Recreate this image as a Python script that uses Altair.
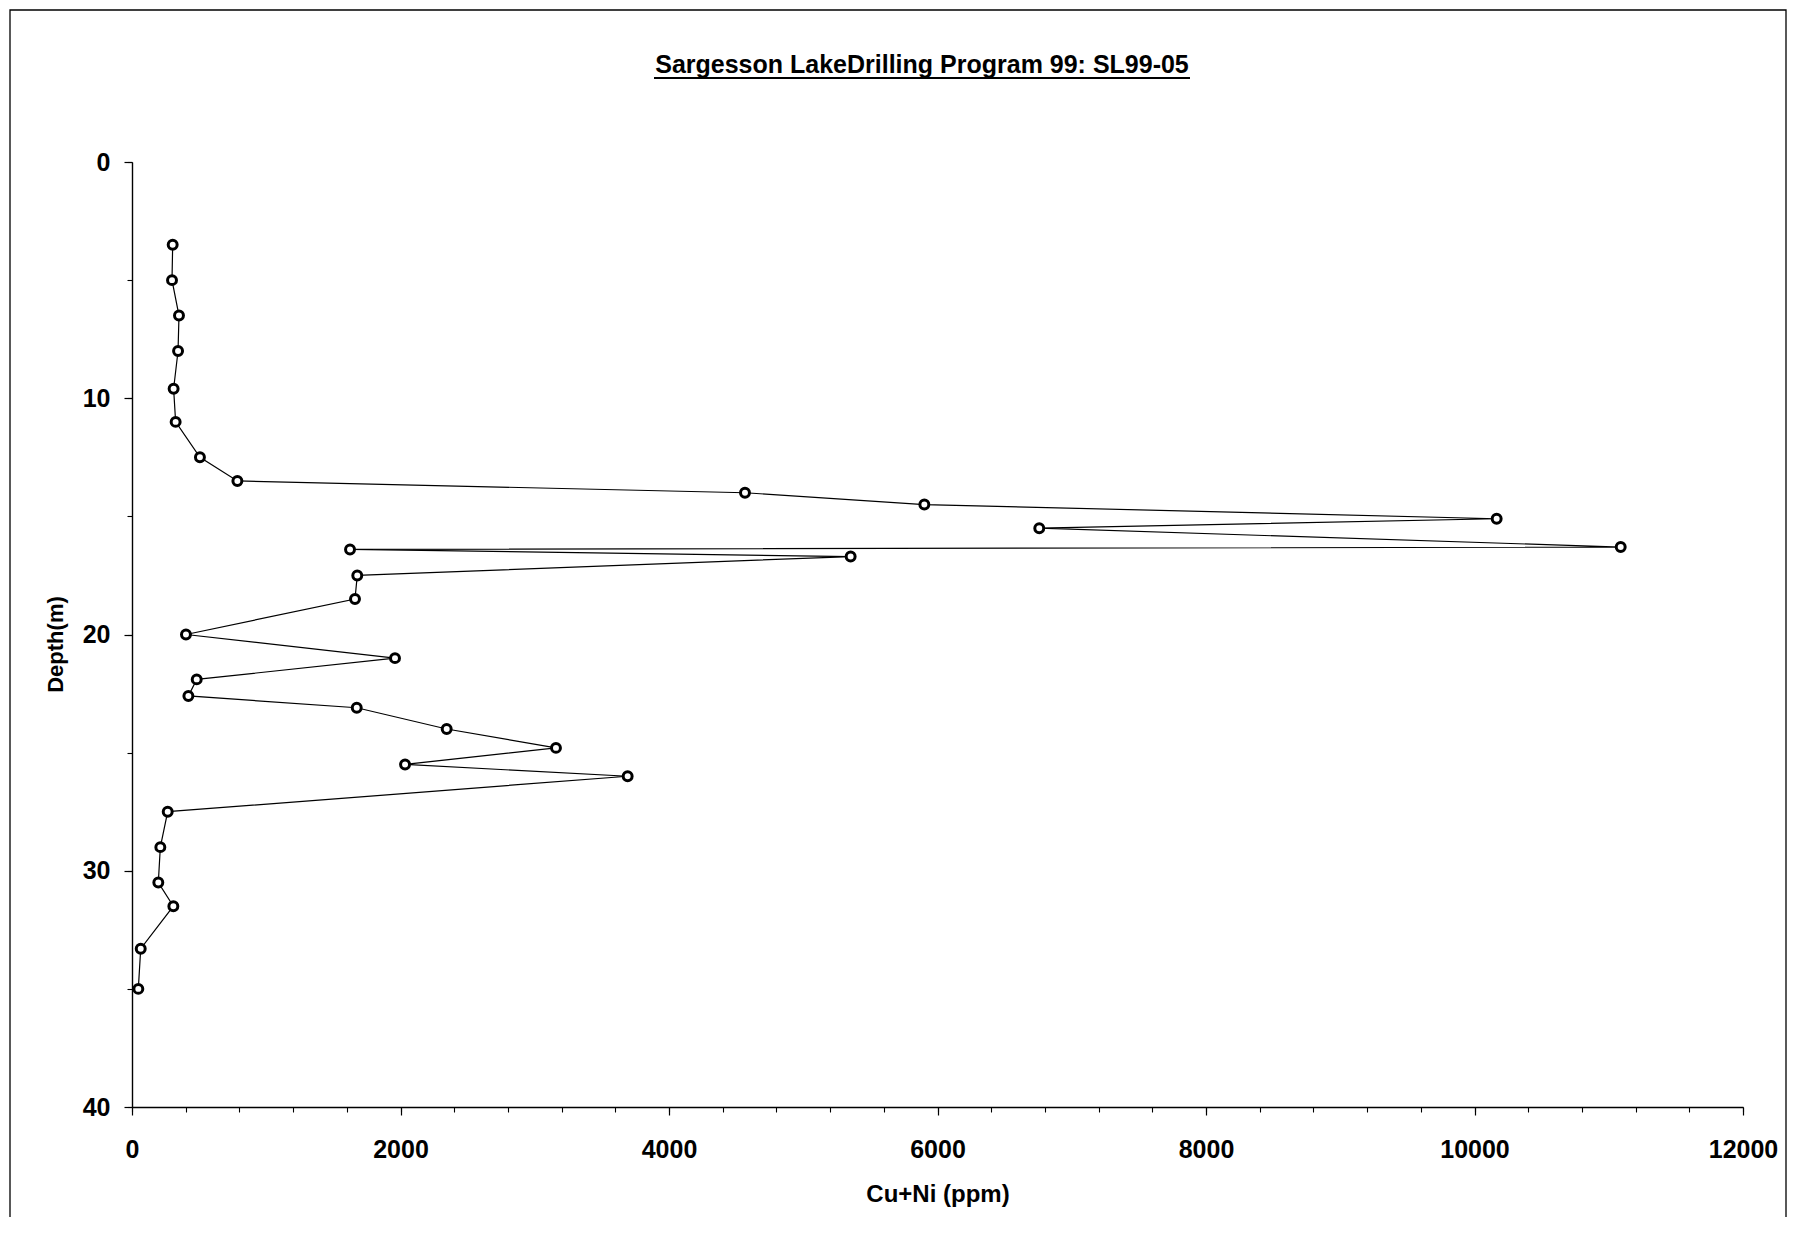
import altair as alt
import pandas as pd

# Data (depth in m, Cu+Ni in ppm), in drilling order
depth = [3.5, 5.0, 6.5, 8.0, 9.6, 11.0, 12.5, 13.5, 14.0, 14.5, 15.1, 15.5, 16.3, 16.4,
         16.7, 17.5, 18.5, 20.0, 21.0, 21.9, 22.6, 23.1, 24.0, 24.8, 25.5, 26.0, 27.5,
         29.0, 30.5, 31.5, 33.3, 35.0]
cu_ni = [303, 298, 350, 343, 310, 325, 506, 785, 4566, 5902, 10165, 6758, 11089, 1624,
         5353, 1678, 1661, 402, 1959, 482, 420, 1674, 2344, 3158, 2034, 3692, 266,
         211, 196, 308, 65, 47]

x_major = [0, 2000, 4000, 6000, 8000, 10000, 12000]
x_minor = list(range(0, 12001, 400))
y_major = [0, 10, 20, 30, 40]
y_minor = [0, 5, 10, 15, 20, 25, 30, 35, 40]

title_text = "Sargesson LakeDrilling Program 99: SL99-05"
x_title = "Cu+Ni (ppm)"
y_title = "Depth(m)"

df = pd.DataFrame({"seq": list(range(len(depth))), "depth": depth, "cu_ni": cu_ni})

FONT = "Liberation Sans"
W, H = 1611, 945

xscale = alt.Scale(domain=[0, 12000], nice=False, zero=False)
yscale = alt.Scale(domain=[0, 40], nice=False, zero=False, reverse=True)

major_x = alt.Axis(orient="bottom", values=x_major, format="d", tickSize=8, labelPadding=22,
                   title=x_title, titleFont=FONT, titleFontSize=24, titleFontWeight="bold",
                   titleBaseline="alphabetic", titleY=94, titleX=W / 2,
                   domainColor="black", domainWidth=1.4, tickColor="black", tickWidth=1.2,
                   labelFont=FONT, labelFontSize=25, labelFontWeight="bold", labelColor="black",
                   grid=False, labelFlush=False)
minor_x = alt.Axis(orient="bottom", values=x_minor, tickSize=5, labels=False, domain=False,
                   title="", tickColor="black", tickWidth=1.1, grid=False)
major_y = alt.Axis(orient="left", values=y_major, tickSize=8, labelPadding=14,
                   title=y_title, titleFont=FONT, titleFontSize=22, titleFontWeight="bold",
                   titleBaseline="alphabetic", titleX=-70, titleY=482, titleAngle=270,
                   domainColor="black", domainWidth=1.4, tickColor="black", tickWidth=1.2,
                   labelFont=FONT, labelFontSize=25, labelFontWeight="bold", labelColor="black",
                   grid=False, labelFlush=False)
minor_y = alt.Axis(orient="left", values=y_minor, tickSize=5, labels=False, domain=False,
                   title="", tickColor="black", tickWidth=1.1, grid=False)

base = alt.Chart(df)

minor = base.mark_point(opacity=0).encode(
    x=alt.X("cu_ni:Q", scale=xscale, axis=minor_x),
    y=alt.Y("depth:Q", scale=yscale, axis=minor_y),
)

line = base.mark_line(color="black", strokeWidth=1.2).encode(
    x=alt.X("cu_ni:Q", scale=xscale, axis=major_x),
    y=alt.Y("depth:Q", scale=yscale, axis=major_y),
    order="seq:Q",
)

points = base.mark_point(shape="circle", filled=True, fill="white", stroke="black",
                         strokeWidth=3, size=80, opacity=1).encode(
    x=alt.X("cu_ni:Q", scale=xscale, axis=None),
    y=alt.Y("depth:Q", scale=yscale, axis=None),
)

one = alt.Data(values=[{"k": 1}])

title = alt.Chart(one).mark_text(
    text=title_text, font=FONT, fontSize=25, fontWeight="bold", color="black",
    align="center", baseline="alphabetic"
).encode(x=alt.value(790), y=alt.value(-89))

underline = alt.Chart(one).mark_rule(color="black", strokeWidth=1.8).encode(
    x=alt.value(522), x2=alt.value(1058), y=alt.value(-84)
)

frame = alt.Chart(one).mark_rect(fillOpacity=0, stroke="black", strokeWidth=1.3).encode(
    x=alt.value(-122), x2=alt.value(1654), y=alt.value(-152), y2=alt.value(1200)
)

chart = alt.layer(frame, minor, line, points, title, underline).resolve_axis(
    x="independent", y="independent"
).properties(
    width=W, height=H,
    autosize=alt.AutoSizeParams(type="none"),
    padding={"left": 124, "top": 154, "right": 46, "bottom": 110},
).configure(background="white").configure_view(stroke=None)

chart.save("out.html", embed_options={"renderer": "svg", "actions": False})
